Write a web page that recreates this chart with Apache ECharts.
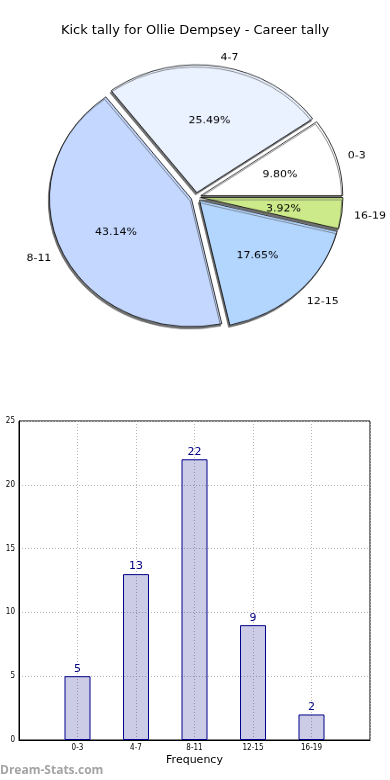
<!DOCTYPE html>
<html>
<head>
<meta charset="utf-8">
<script src="https://cdn.jsdelivr.net/npm/echarts@6/dist/echarts.min.js"></script>
<style>
html,body{margin:0;padding:0;background:#fff;}
#main{position:absolute;left:0;top:0;width:390px;height:780px;}
#pie{position:absolute;left:0;top:0;width:390px;height:360px;transform-origin:195px 197px;transform:scaleY(0.9);}
</style>
</head>
<body>
<div id="main"></div>
<div id="pie"></div>
<script>
const titleText = 'Kick tally for Ollie Dempsey - Career tally';
const categories = ['0-3', '4-7', '8-11', '12-15', '16-19'];
const tallies = [5, 13, 22, 9, 2];
const pieColors = ['#ffffff', '#eaf2ff', '#c4d8ff', '#b3d6ff', '#ccea8a'];
const yTicks = [0, 5, 10, 15, 20, 25];
const xAxisName = 'Frequency';
const watermark = 'Dream-Stats.com';

const FONT = 'DejaVu Sans';
const total = tallies.reduce((a, b) => a + b, 0);

// ---------- bar chart + title ----------
const main = echarts.init(document.getElementById('main'));
main.setOption({
  animation: false,
  title: {
    text: titleText, left: 'center', top: 19,
    textStyle: {fontFamily: FONT, fontSize: 13, fontWeight: 'normal', color: '#000'}
  },
  graphic: [{
    type: 'text', left: 0, top: 765,
    style: {text: watermark, fill: '#a4a4a4', font: 'bold 12px "Open Sans"'}
  }],
  grid: {left: 19, right: 20, top: 421, bottom: 40, show: true, borderColor: '#000', borderWidth: 1},
  xAxis: {
    type: 'value', min: -1, max: 5, interval: 1,
    name: xAxisName, nameLocation: 'middle', nameGap: 15,
    nameTextStyle: {fontFamily: FONT, fontSize: 11, color: '#000'},
    axisLine: {show: true, onZero: false, lineStyle: {color: '#000'}},
    axisTick: {show: false},
    axisLabel: {
      fontFamily: 'DejaVu Sans Condensed', fontSize: 8, color: '#000', margin: 4,
      formatter: v => (Number.isInteger(v) && v >= 0 && v < categories.length) ? categories[v] : ''
    },
    splitLine: {show: true, lineStyle: {color: '#b8b8b8', type: [1, 2], width: 1}}
  },
  yAxis: {
    type: 'value', min: yTicks[0], max: yTicks[yTicks.length - 1], interval: 5,
    axisLine: {show: true, onZero: false, lineStyle: {color: '#000'}},
    axisTick: {show: false},
    axisLabel: {fontFamily: 'DejaVu Sans Condensed', fontSize: 8, color: '#000', margin: 4},
    splitLine: {show: true, lineStyle: {color: '#b8b8b8', type: [1, 2], width: 1}}
  },
  series: [{
    type: 'bar',
    barWidth: 26,
    data: tallies.map((v, i) => [i, v]),
    itemStyle: {color: 'rgba(0,0,128,0.2)', borderColor: '#00008b', borderWidth: 1},
    label: {
      show: true, position: 'top', distance: 2,
      fontFamily: FONT, fontSize: 11, color: '#000080',
      formatter: p => String(p.value[1])
    }
  }]
});

// ---------- pie (drawn as circle, squeezed to match the elliptical original) ----------
const CX = 196, CY = 197, R = 142, EXPLODE = 5, LABEL_DY = 2;
const pie = echarts.init(document.getElementById('pie'));
const pieData = categories.map((c, i) => ({
  name: c, value: tallies[i], selected: true,
  itemStyle: {color: pieColors[i]}
}));
const labelData = () => categories.map((c, i) => ({name: c, value: tallies[i]}));
const invisible = {color: 'rgba(0,0,0,0)', borderWidth: 0, shadowBlur: 0, shadowColor: 'rgba(0,0,0,0)'};
pie.setOption({
  animation: false,
  series: [
    {
      type: 'pie', center: [CX, CY], radius: [0, R], z: 1,
      startAngle: 0, clockwise: false,
      selectedMode: 'multiple', selectedOffset: EXPLODE,
      silent: true,
      data: pieData,
      label: {show: false}, labelLine: {show: false},
      itemStyle: {
        borderColor: '#000', borderWidth: 0.8,
        shadowColor: 'rgba(90,90,90,0.85)', shadowBlur: 0, shadowOffsetX: -1.2, shadowOffsetY: 2.5
      }
    },
    {
      type: 'pie', center: [CX, CY + LABEL_DY], radius: [0, R * 1.2], z: 5,
      startAngle: 0, clockwise: false, silent: true,
      data: labelData(),
      itemStyle: invisible,
      label: {
        show: true, position: 'inside', fontFamily: FONT, fontSize: 11, color: '#000',
        formatter: p => (p.value / total * 100).toFixed(2) + '%'
      },
      labelLine: {show: false}
    },
    {
      type: 'pie', center: [CX, CY + LABEL_DY], radius: [0, R * 2.2], z: 5,
      startAngle: 0, clockwise: false, silent: true,
      data: labelData(),
      itemStyle: invisible,
      label: {
        show: true, position: 'inside', fontFamily: FONT, fontSize: 11, color: '#000',
        formatter: p => p.name
      },
      labelLayout: p => {
        const mid = p.labelRect.x + p.labelRect.width / 2;
        return {align: mid > CX + 2 ? 'left' : (mid < CX - 2 ? 'right' : 'center')};
      },
      labelLine: {show: false}
    }
  ]
});
</script>
</body>
</html>
